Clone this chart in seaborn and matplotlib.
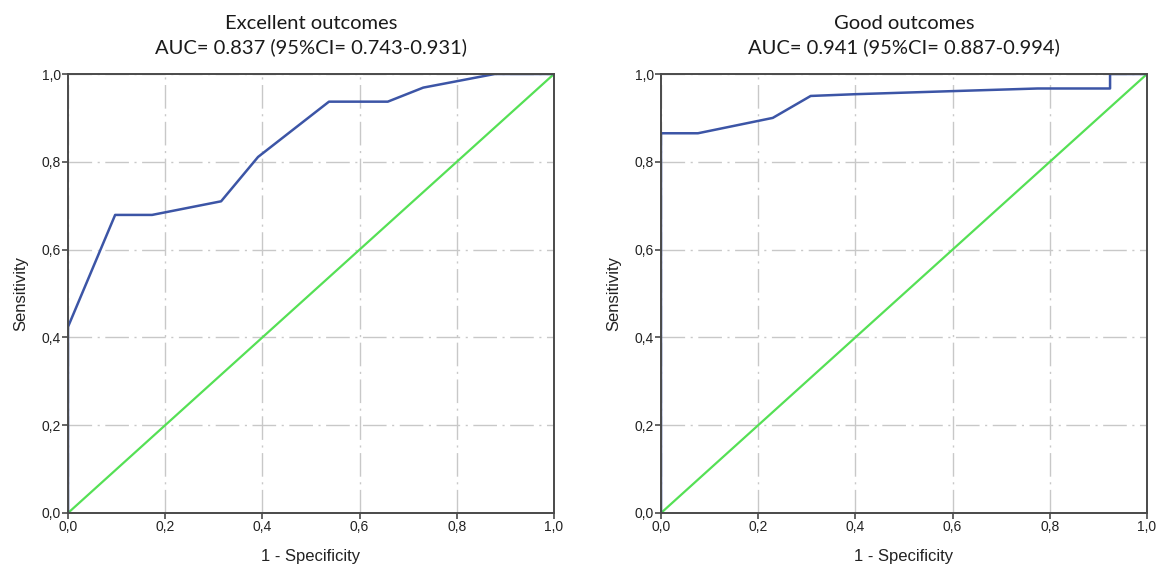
import numpy as np
import pandas as pd
import matplotlib
matplotlib.use("Agg")
import matplotlib.pyplot as plt
import seaborn as sns

# ROC points
exc_fpr = [0.0, 0.0, 0.097, 0.173, 0.315, 0.391, 0.537, 0.658, 0.731, 0.878, 1.0]
exc_tpr = [0.0, 0.424, 0.679, 0.679, 0.710, 0.811, 0.937, 0.937, 0.969, 1.0, 1.0]

good_fpr = [0.0, 0.0, 0.076, 0.230, 0.308, 0.40, 0.60, 0.775, 0.924, 0.924, 1.0]
good_tpr = [0.0, 0.865, 0.865, 0.900, 0.950, 0.954, 0.961, 0.967, 0.967, 1.0, 1.0]

ref_line = [0.0, 1.0]

titles = ["Excellent outcomes\nAUC= 0.837 (95%CI= 0.743-0.931)",
          "Good outcomes\nAUC= 0.941 (95%CI= 0.887-0.994)"]
tick_vals = [0.0, 0.2, 0.4, 0.6, 0.8, 1.0]
tick_labels = ["0,0", "0,2", "0,4", "0,6", "0,8", "1,0"]

sns.set_theme(style="white")
plt.rcParams['font.family'] = ['Liberation Sans', 'DejaVu Sans']

BLUE = "#3c55a6"
GREEN = "#55e055"

fig = plt.figure(figsize=(11.62, 5.66), dpi=100)
ax1 = fig.add_axes([68 / 1162, 53 / 566, 486 / 1162, 439 / 566])
ax2 = fig.add_axes([661 / 1162, 53 / 566, 486 / 1162, 439 / 566])

curves = [(exc_fpr, exc_tpr), (good_fpr, good_tpr)]
for ax, (fpr, tpr), title in zip([ax1, ax2], curves, titles):
    roc = pd.DataFrame({"fpr": fpr, "tpr": tpr})
    diag = pd.DataFrame({"fpr": ref_line, "tpr": ref_line})
    sns.lineplot(data=diag, x="fpr", y="tpr", ax=ax, color=GREEN, lw=1.6,
                 sort=False, estimator=None)
    # estimator=None keeps the vertical steps (repeated x values)
    sns.lineplot(data=roc, x="fpr", y="tpr", ax=ax, color=BLUE, lw=1.8,
                 sort=False, estimator=None)

    ax.set_xlim(0, 1)
    ax.set_ylim(0, 1)
    ax.set_xticks(tick_vals)
    ax.set_xticklabels(tick_labels)
    ax.set_yticks(tick_vals)
    ax.set_yticklabels(tick_labels)
    ax.grid(True, color="#c8c8c8", lw=1, linestyle=(0, (17, 4, 1.5, 4)))
    ax.set_axisbelow(True)
    for s in ax.spines.values():
        s.set_color("#4a4a4a")
        s.set_linewidth(1.4)
    ax.tick_params(axis="both", which="major", direction="out", length=4, width=1.2,
                   color="#4a4a4a", labelsize=10, labelcolor="#222222", pad=1,
                   left=True, bottom=True)
    ax.set_xlabel("1 - Specificity", fontsize=12, color="#222222", labelpad=11)
    ax.set_ylabel("Sensitivity", fontsize=12, color="#222222", labelpad=10)
    ax.set_title(title, fontsize=14.5, family=["Lato", "DejaVu Sans"], color="#1a1a1a",
                 pad=15, linespacing=1.45)

fig.savefig("out.png", dpi=100)
